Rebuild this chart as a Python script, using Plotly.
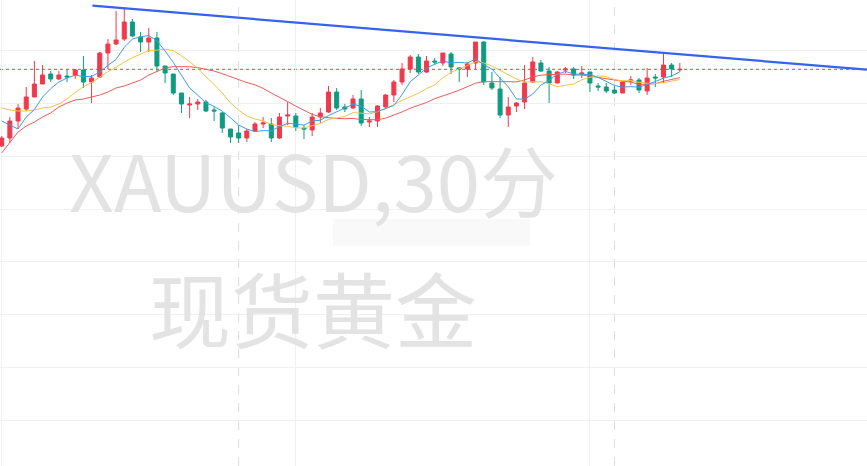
import plotly.graph_objects as go
import pandas as pd

# ---------------- data (XAUUSD 30-minute candles) ----------------
opens = [2385.4, 2386.2, 2387.9, 2389.1, 2390.3, 2391.6, 2392.6, 2392.1, 2392.4, 2392.5,
         2393.0, 2391.8, 2392.3, 2394.7, 2395.6, 2396.1, 2397.8, 2396.3, 2395.8, 2396.2,
         2393.4, 2392.6, 2390.7, 2389.5, 2389.6, 2389.8, 2389.0, 2388.7, 2387.1, 2386.7,
         2386.2, 2386.9, 2387.6, 2387.6, 2386.2, 2388.4, 2388.4, 2387.2, 2387.0, 2388.3,
         2388.8, 2390.8, 2389.3, 2389.2, 2390.1, 2387.8, 2387.9, 2389.3, 2390.5, 2391.8,
         2393.1, 2394.3, 2392.8, 2393.9, 2393.7, 2394.6, 2393.2, 2393.1, 2393.7, 2395.8,
         2391.7, 2391.1, 2388.5, 2389.4, 2389.8, 2391.8, 2393.7, 2392.9, 2391.7, 2393.0,
         2393.1, 2392.6, 2392.8, 2391.4, 2391.3, 2391.0, 2390.7, 2391.9, 2392.0, 2390.9,
         2392.3, 2392.3, 2393.5, 2393.02]
highs = [2386.4, 2388.3, 2389.6, 2391.3, 2393.9, 2393.5, 2392.9, 2392.9, 2393.1, 2393.1,
         2394.4, 2392.5, 2394.8, 2396.1, 2398.9, 2399.2, 2398.1, 2396.8, 2397.2, 2396.8,
         2393.4, 2392.6, 2390.7, 2390.3, 2390.1, 2390.0, 2389.3, 2388.8, 2387.1, 2387.5,
         2387.1, 2387.8, 2388.3, 2388.2, 2388.7, 2389.8, 2388.7, 2387.5, 2388.7, 2389.2,
         2391.4, 2391.2, 2389.6, 2390.5, 2391.0, 2388.3, 2389.5, 2390.6, 2392.0, 2393.7,
         2394.5, 2394.6, 2394.4, 2394.2, 2394.7, 2394.8, 2393.3, 2393.8, 2395.8, 2395.9,
         2392.8, 2392.3, 2390.3, 2389.8, 2393.5, 2394.3, 2394.0, 2393.3, 2392.9, 2393.3,
         2393.3, 2393.4, 2392.8, 2391.7, 2391.7, 2391.4, 2391.8, 2392.4, 2392.2, 2393.2,
         2392.6, 2394.8, 2393.7, 2393.7]
lows = [2385.3, 2385.7, 2387.1, 2388.9, 2390.3, 2391.6, 2391.8, 2392.0, 2391.8, 2392.1,
        2391.2, 2389.7, 2392.2, 2393.1, 2395.5, 2395.9, 2396.3, 2394.8, 2394.8, 2392.8,
        2391.7, 2390.5, 2388.7, 2388.2, 2389.0, 2388.8, 2387.9, 2386.7, 2385.7, 2385.7,
        2385.8, 2386.8, 2387.2, 2385.8, 2386.1, 2387.5, 2386.9, 2386.1, 2386.4, 2387.7,
        2388.7, 2389.0, 2388.8, 2389.1, 2387.4, 2387.3, 2387.3, 2389.1, 2389.8, 2391.5,
        2392.7, 2392.6, 2392.7, 2393.5, 2393.4, 2392.6, 2391.8, 2392.3, 2393.1, 2391.5,
        2391.0, 2388.2, 2387.3, 2388.8, 2389.1, 2391.7, 2392.8, 2389.7, 2391.7, 2392.7,
        2392.1, 2392.2, 2390.8, 2390.9, 2390.7, 2390.6, 2390.7, 2391.5, 2390.7, 2390.5,
        2391.3, 2391.7, 2392.3, 2392.8]
closes = [2386.2, 2387.9, 2389.2, 2390.3, 2391.6, 2392.5, 2392.1, 2392.5, 2392.3, 2393.0,
          2391.8, 2392.2, 2394.7, 2395.6, 2396.0, 2397.8, 2396.4, 2395.8, 2396.2, 2393.4,
          2392.7, 2390.7, 2389.6, 2389.6, 2389.8, 2388.9, 2388.9, 2387.2, 2386.3, 2386.2,
          2386.9, 2387.6, 2387.7, 2386.2, 2388.3, 2388.5, 2387.3, 2387.1, 2388.3, 2388.7,
          2390.8, 2389.2, 2389.1, 2390.1, 2387.7, 2387.9, 2389.4, 2390.5, 2391.8, 2393.1,
          2394.3, 2392.8, 2393.9, 2393.8, 2394.7, 2393.3, 2393.1, 2393.6, 2395.8, 2391.8,
          2391.2, 2388.5, 2389.3, 2389.7, 2391.7, 2393.8, 2392.9, 2391.7, 2392.8, 2393.1,
          2392.5, 2392.7, 2391.7, 2391.3, 2390.9, 2390.7, 2391.8, 2392.0, 2391.0, 2392.2,
          2392.2, 2393.5, 2393.1, 2393.07]

# moving-average values read off the chart where history is not visible
ma5_head = [2387.9, 2387.5, 2387.1, 2388.3]
ma10_head = [2389.2, 2389.0, 2388.9, 2388.9, 2389.0, 2389.2, 2389.3, 2389.6, 2390.1]
ma20_head = [2384.7, 2385.7, 2386.8, 2387.4, 2387.8, 2388.3, 2388.7, 2389.3, 2389.7, 2390.0,
             2390.1, 2390.3, 2390.5, 2390.8, 2391.2, 2391.4, 2391.7, 2392.0, 2392.5]

# trend line drawing anchors (bar index, price)
trend_x = [11.1, 105.9]
trend_y = [2399.43, 2393.03]

# grid positions
grid_prices = [2395.0, 2389.7, 2384.4, 2379.1, 2373.9, 2368.6, 2363.3, 2358.0]
grid_bars = [0, 36, 72]
session_bars = [29, 75]

title_text = "XAUUSD,30分"
subtitle_text = "现货黄金"

# ---------------- styling ----------------
RED = "#ef3a4c"
GREEN = "#0e9b81"
MA5_C = "#3e9be8"
MA10_C = "#f4c246"
MA20_C = "#ef5b5b"
TREND_C = "#3563f0"
GRID_C = "#f0f0f0"

idx = list(range(len(closes)))
cs = pd.Series(closes)


def ma(n, head):
    s = cs.rolling(n).mean().tolist()
    for k, v in enumerate(head):
        s[k] = v
    return s


fig = go.Figure()

fig.add_trace(go.Candlestick(
    x=idx, open=opens, high=highs, low=lows, close=closes,
    increasing=dict(line=dict(color=RED, width=1), fillcolor=RED),
    decreasing=dict(line=dict(color=GREEN, width=1), fillcolor=GREEN),
    whiskerwidth=0, hoverinfo="skip", showlegend=False,
))

for n, head, col in [(20, ma20_head, MA20_C), (10, ma10_head, MA10_C), (5, ma5_head, MA5_C)]:
    fig.add_trace(go.Scatter(x=idx, y=ma(n, head), mode="lines",
                             line=dict(color=col, width=1), hoverinfo="skip",
                             showlegend=False))

fig.add_trace(go.Scatter(x=trend_x, y=trend_y, mode="lines",
                         line=dict(color=TREND_C, width=2.2), hoverinfo="skip",
                         showlegend=False))

shapes = []
for b in session_bars:
    shapes.append(dict(type="line", xref="x", yref="paper", x0=b, x1=b, y0=0, y1=1,
                       line=dict(color="#dcdcdc", width=1, dash="dash"), layer="below"))
shapes.append(dict(type="line", xref="paper", yref="y", x0=0, x1=1,
                   y0=closes[-1], y1=closes[-1],
                   line=dict(color=RED, width=1, dash="dot"), layer="below"))
# faint reflection under the watermark
shapes.append(dict(type="rect", xref="paper", yref="paper",
                   x0=333 / 867, x1=530 / 867, y0=1 - 246 / 466, y1=1 - 219 / 466,
                   fillcolor="rgba(0,0,0,0.025)", line=dict(width=0), layer="below"))

annotations = [
    dict(text=title_text, xref="paper", yref="paper", x=313 / 867, y=1 - 178 / 466,
         xanchor="center", yanchor="middle", showarrow=False,
         font=dict(family="Noto Sans CJK SC", size=78, color="#e3e3e3")),
    dict(text=subtitle_text, xref="paper", yref="paper", x=313 / 867, y=1 - 306 / 466,
         xanchor="center", yanchor="middle", showarrow=False,
         font=dict(family="Noto Sans CJK SC", size=82, color="#e3e3e3")),
]

fig.update_layout(
    width=867, height=466,
    margin=dict(l=0, r=0, t=0, b=0),
    paper_bgcolor="white", plot_bgcolor="white",
    showlegend=False,
    shapes=shapes, annotations=annotations,
    xaxis=dict(range=[-0.208, 105.91], tickvals=grid_bars, showticklabels=False,
               showgrid=True, gridcolor=GRID_C, gridwidth=1, zeroline=False,
               showline=False, rangeslider=dict(visible=False), fixedrange=True),
    yaxis=dict(range=[2353.4, 2400.0], tickvals=grid_prices, showticklabels=False,
               showgrid=True, gridcolor=GRID_C, gridwidth=1, zeroline=False,
               showline=False, fixedrange=True),
)

fig.write_html("out.html", config=dict(displayModeBar=False))
